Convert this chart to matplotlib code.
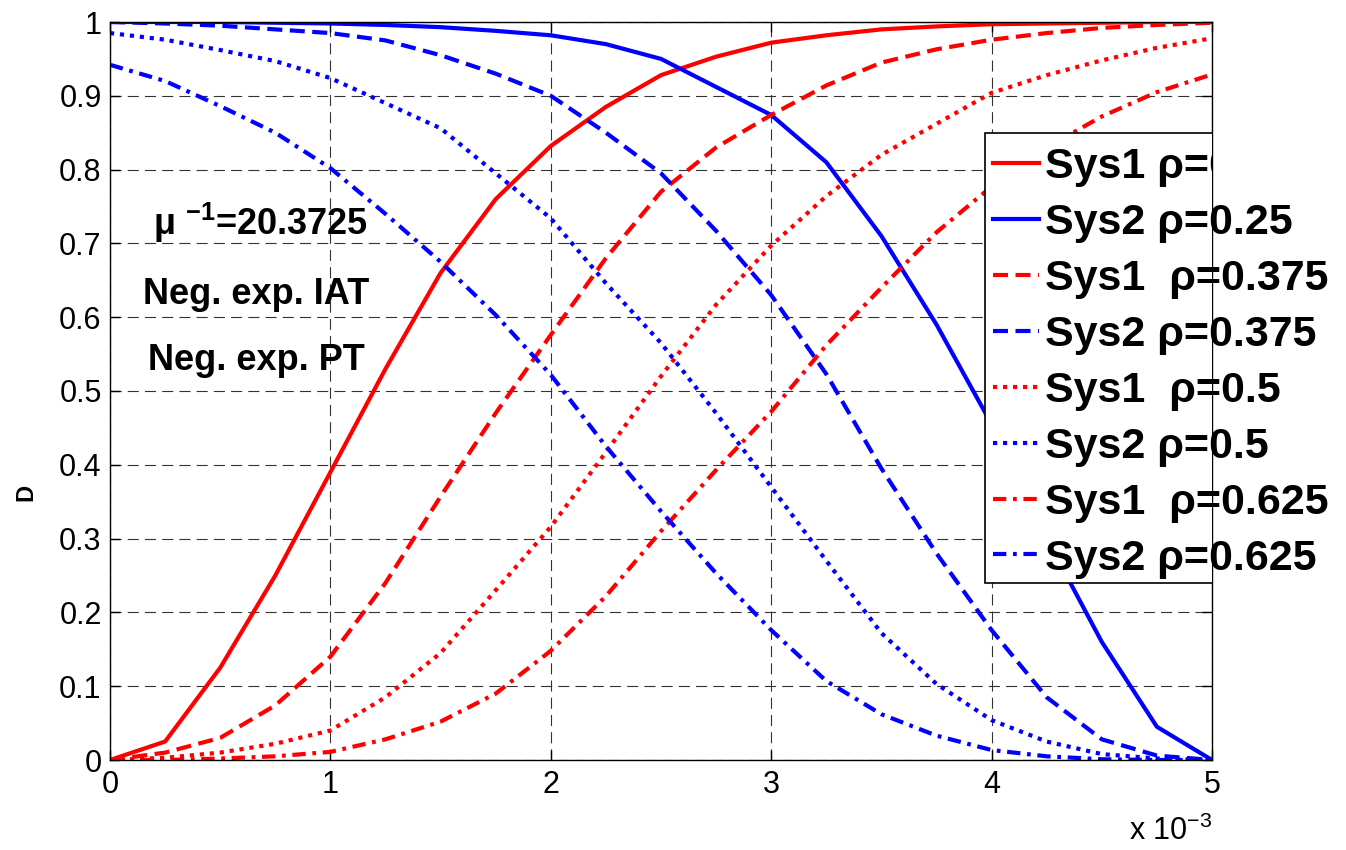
import numpy as np
import matplotlib.pyplot as plt
from matplotlib.patches import Polygon
from matplotlib.ticker import FuncFormatter

plt.rcParams['font.family'] = ['Liberation Sans', 'DejaVu Sans']
plt.rcParams['mathtext.fontset'] = 'custom'
plt.rcParams['mathtext.rm'] = 'Liberation Sans'
plt.rcParams['mathtext.it'] = 'Liberation Sans:italic'
plt.rcParams['mathtext.bf'] = 'Liberation Sans:bold'

# x axis values (in units of 1e-3)
t = [0, 0.25, 0.5, 0.75, 1.0, 1.25, 1.5, 1.75, 2.0, 2.25, 2.5,
     2.75, 3.0, 3.25, 3.5, 3.75, 4.0, 4.25, 4.5, 4.75, 5.0]

sys1_025 = [0, 0.025, 0.125, 0.25, 0.39, 0.53, 0.66, 0.76, 0.832, 0.885, 0.928,
            0.953, 0.972, 0.982, 0.99, 0.994, 0.997, 0.998, 0.999, 1.0, 1.0]
sys2_025 = [1.0, 1.0, 1.0, 0.999, 0.998, 0.996, 0.993, 0.988, 0.982, 0.97, 0.95,
            0.912, 0.874, 0.81, 0.71, 0.59, 0.455, 0.30, 0.16, 0.045, 0.0]
sys1_0375 = [0, 0.01, 0.03, 0.074, 0.14, 0.24, 0.357, 0.47, 0.576, 0.68, 0.77,
             0.83, 0.874, 0.914, 0.945, 0.963, 0.976, 0.985, 0.992, 0.996, 0.999]
sys2_0375 = [1.0, 0.998, 0.995, 0.99, 0.985, 0.975, 0.955, 0.93, 0.90, 0.85, 0.795,
             0.717, 0.63, 0.523, 0.395, 0.28, 0.176, 0.085, 0.028, 0.006, 0.0]
sys1_05 = [0, 0.003, 0.01, 0.022, 0.04, 0.085, 0.145, 0.23, 0.316, 0.417, 0.52,
           0.617, 0.697, 0.764, 0.82, 0.862, 0.904, 0.928, 0.948, 0.965, 0.978]
sys2_05 = [0.985, 0.976, 0.962, 0.947, 0.924, 0.89, 0.856, 0.795, 0.734, 0.646, 0.565,
           0.47, 0.37, 0.27, 0.172, 0.103, 0.054, 0.025, 0.008, 0.002, 0.0]
sys1_0625 = [0, 0.0, 0.002, 0.005, 0.011, 0.028, 0.052, 0.09, 0.148, 0.222, 0.31,
             0.393, 0.472, 0.562, 0.64, 0.715, 0.777, 0.83, 0.872, 0.905, 0.929]
sys2_0625 = [0.942, 0.92, 0.886, 0.85, 0.802, 0.74, 0.675, 0.603, 0.522, 0.425, 0.337,
             0.253, 0.176, 0.107, 0.062, 0.033, 0.0135, 0.005, 0.001, 0.0, 0.0]

labels = ['Sys1 \u03c1=0.25', 'Sys2 \u03c1=0.25', 'Sys1  \u03c1=0.375', 'Sys2 \u03c1=0.375',
          'Sys1  \u03c1=0.5', 'Sys2 \u03c1=0.5', 'Sys1  \u03c1=0.625', 'Sys2 \u03c1=0.625']
series = [sys1_025, sys2_025, sys1_0375, sys2_0375, sys1_05, sys2_05, sys1_0625, sys2_0625]
colors = ['#ff0000', '#0000ff'] * 4
dashdot = (0, (3.2, 1.6, 0.9, 1.6))
styles = ['-', '-', (0, (3.6, 1.8)), (0, (3.6, 1.8)), (0, (1, 1.4)), (0, (1, 1.4)), dashdot, dashdot]

fig = plt.figure(figsize=(13.46, 8.5), dpi=100)
ax = fig.add_axes([110 / 1346, 90 / 850, 1102 / 1346, 738 / 850])

handles = []
for y, c, ls, lab in zip(series, colors, styles, labels):
    h, = ax.plot(t, y, color=c, linestyle=ls, linewidth=3, label=lab,
                 solid_joinstyle='round', dash_joinstyle='round')
    handles.append(h)

ax.set_xlim(0, 5)
ax.set_ylim(0, 1)
ax.set_xticks([0, 1, 2, 3, 4, 5])
ax.set_yticks(np.arange(0, 1.01, 0.1))
fmt = FuncFormatter(lambda v, p: f'{v:g}')
ax.xaxis.set_major_formatter(fmt)
ax.yaxis.set_major_formatter(fmt)
ax.tick_params(direction='in', length=7, width=1, top=True, right=True, labelsize=22)
ax.tick_params(axis='x', pad=7)
ax.tick_params(axis='y', pad=6)
ax.grid(True, linestyle=(0, (10, 5.5)), color='#333333', linewidth=0.8)
for s in ax.spines.values():
    s.set_linewidth(1)

ax.set_ylabel('D', fontsize=17, fontweight='bold')
ax.yaxis.set_label_coords(-0.066, 0.362)

# annotations
ax.text(0.136, 0.711, 'μ $^{\\mathbf{-1}}$=20.3725', transform=ax.transAxes,
        ha='center', va='baseline', fontsize=26, fontweight='bold')
ax.text(0.1325, 0.618, 'Neg. exp. IAT', transform=ax.transAxes,
        ha='center', va='baseline', fontsize=26, fontweight='bold')
ax.text(0.133, 0.528, 'Neg. exp. PT', transform=ax.transAxes,
        ha='center', va='baseline', fontsize=26, fontweight='bold')

fig.text(1212 / 1346, 10 / 850, 'x 10$^{-3}$', ha='right', va='baseline', fontsize=22)

# legend box (open on the right, like the original)
lx, ltop, lbot = (985 - 110) / 1102, (760 - 133) / 738, (760 - 583) / 738
box = Polygon([[1.0, ltop], [lx, ltop], [lx, lbot], [1.0, lbot]], closed=False,
              transform=ax.transAxes, facecolor='white', edgecolor='black',
              linewidth=1.2, zorder=4, clip_on=False)
ax.add_patch(box)

leg = ax.legend(handles, labels, loc='upper left', bbox_to_anchor=((993 - 110) / 1102, (760 - 147) / 738),
                bbox_transform=ax.transAxes, frameon=False, borderpad=0, borderaxespad=0,
                prop={'size': 31, 'weight': 'bold'}, handlelength=1.07, handletextpad=0.14,
                labelspacing=0.37)
leg.set_zorder(5)
first = leg.get_texts()[0]
first.set_clip_box(ax.bbox)
first.set_clip_on(True)

fig.savefig('out.png', dpi=100)
